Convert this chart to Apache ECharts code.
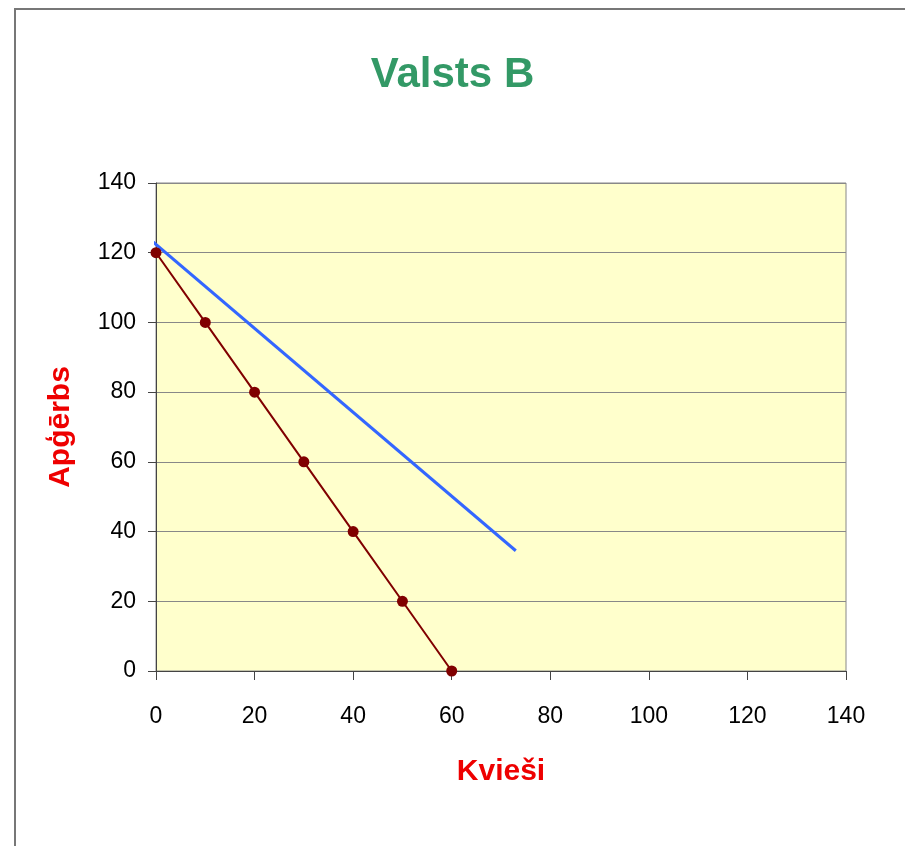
<!DOCTYPE html>
<html lang="lv">
<head>
    <meta charset="UTF-8">
    <title>Valsts B</title>
    <style>
        html, body { margin: 0; padding: 0; background: #fff; }
        #main { width: 905px; height: 846px; }
        #frame {
            position: absolute; left: 14px; top: 8px; width: 900px; height: 850px;
            border-left: 2px solid #777; border-top: 2px solid #777; pointer-events: none;
        }
    </style>
</head>
<body>
<div id="main"></div>
<div id="frame"></div>
<script src="https://cdn.jsdelivr.net/npm/echarts@6/dist/echarts.min.js"></script>
<script>
    // robežas līkne (kvieši, apģērbs)
    const kviesi = [0, 10, 20, 30, 40, 50, 60];
    const apgerbs = [120, 100, 80, 60, 40, 20, 0];
    // zilā līnija (sākums un beigas)
    const zilaX = [-1.2, 73];
    const zilaY = [123.8, 34.5];
    const axisTicks = [0, 20, 40, 60, 80, 100, 120, 140];

    const chart = echarts.init(document.getElementById('main'));
    chart.setOption({
        animation: false,
        title: {
            text: 'Valsts B',
            left: 'center',
            top: 49,
            textStyle: { color: '#339966', fontSize: 42, fontWeight: 'bold', fontFamily: 'Liberation Sans' }
        },
        grid: { left: 156, top: 183, right: 59, bottom: 175, show: true, backgroundColor: '#FFFFCC', borderColor: '#888', borderWidth: 1 },
        xAxis: {
            type: 'value', min: axisTicks[0], max: axisTicks[axisTicks.length - 1], interval: 20,
            name: 'Kvieši', nameLocation: 'middle', nameGap: 86,
            nameTextStyle: { color: '#ee0000', fontSize: 30, fontWeight: 'bold', fontFamily: 'Liberation Sans' },
            axisLine: { lineStyle: { color: '#444', width: 1 } },
            axisTick: { show: true, length: 9, lineStyle: { color: '#444' } },
            axisLabel: { color: '#000', fontSize: 23, margin: 34, fontFamily: 'Liberation Sans' },
            splitLine: { show: false }
        },
        yAxis: {
            type: 'value', min: 0, max: 140, interval: 20,
            name: 'Apģērbs', nameLocation: 'middle', nameGap: 80,
            nameTextStyle: { color: '#ee0000', fontSize: 30, fontWeight: 'bold', fontFamily: 'Liberation Sans' },
            axisLine: { show: true, lineStyle: { color: '#444', width: 1 } },
            axisTick: { show: true, length: 8, lineStyle: { color: '#444' } },
            axisLabel: { color: '#000', fontSize: 23, margin: 20, fontFamily: 'Liberation Sans' },
            splitLine: { show: true, lineStyle: { color: '#888', width: 1 } }
        },
        series: [
            {
                type: 'line',
                data: zilaX.map((x, i) => [x, zilaY[i]]),
                showSymbol: false,
                clip: false,
                lineStyle: { color: '#3366FF', width: 3 },
                z: 3
            },
            {
                type: 'line',
                data: kviesi.map((x, i) => [x, apgerbs[i]]),
                symbol: 'circle',
                symbolSize: 11,
                clip: false,
                itemStyle: { color: '#800000' },
                lineStyle: { color: '#800000', width: 2 },
                z: 4
            }
        ]
    });
</script>
</body>
</html>
